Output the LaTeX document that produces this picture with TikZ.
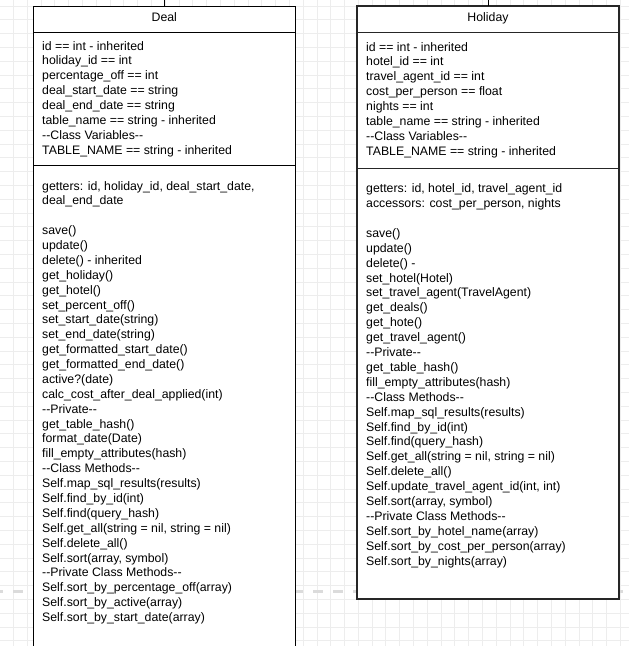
\documentclass[tikz,border=0pt]{standalone}
\usepackage{fontspec}
\setmainfont{Liberation Sans}
\newcommand\dd{-\kern0pt-}
\begin{document}
\begin{tikzpicture}[x=1pt,y=-1pt,
  gridline/.style={draw=gray!14, line width=0.8pt},
  swimline/.style={draw=gray!28, line width=3pt, dash pattern=on 10pt off 10pt},
  classbox/.style={draw=black, line width=1.4pt, fill=white, rectangle, inner sep=0pt, outer sep=0pt, anchor=north west},
  sepline/.style={draw=black, line width=1.4pt},
  link/.style={draw=black, line width=1.2pt},
  title/.style={anchor=base, inner sep=0pt, font=\fontsize{12.3}{14.88}\selectfont},
  member/.style={anchor=base west, inner sep=0pt, font=\fontsize{12.3}{14.88}\selectfont}]
\useasboundingbox (0,0) rectangle (629,646);
\clip (0,0) rectangle (629,646);
% background grid
\foreach \k in {0,...,44} \draw[gridline] ({13.4+13.796*\k},0) -- ({13.4+13.796*\k},646);
\foreach \k in {0,...,46} \draw[gridline] (0,{5.9+13.8*\k}) -- (629,{5.9+13.8*\k});
% dashed lane line
\draw[swimline] (-6.7,591) -- (640,591);
% class boxes
\node[classbox, minimum width=262pt, minimum height=660pt] (deal) at (33.3,6.3) {};
\node[classbox, draw=black!85, line width=1.7pt, minimum width=262pt, minimum height=592.4pt] (holiday) at (357,6.3) {};
\draw[sepline] (deal.north west) ++(0,26.4) -- ++(262,0);
\draw[sepline] (deal.north west) ++(0,159.4) -- ++(262,0);
\draw[sepline, draw=black!85] (holiday.north west) ++(0,26.4) -- ++(262,0);
\draw[sepline, draw=black!85] (holiday.north west) ++(0,162) -- ++(262,0);
% connectors leaving the top
\coordinate (dealtop) at (164.5,-3);
\coordinate (holidaytop) at (488.2,-3);
\draw[link] (deal.north) ++(0.2,0) -- (dealtop);
\draw[link] (holiday.north) ++(0.2,0) -- (holidaytop);
% titles
\node[title] (dealname) at (164.3,21.9) {Deal};
\node[title] (holidayname) at (488,21.9) {Holiday};
% Deal attributes
\foreach \t [count=\i from 0] in {%
  {id == int - inherited},
  {holiday\_id == int},
  {percentage\_off == int},
  {deal\_start\_date == string},
  {deal\_end\_date == string},
  {table\_name == string - inherited},
  {\dd Class Variables\dd},
  {TABLE\_NAME == string - inherited}}
  \node[member] (da\i) at (42,{50.0+14.86*\i}) {\t};
% Deal methods
\foreach \t [count=\i from 0] in {%
  {getters: id, holiday\_id, deal\_start\_date,},
  {deal\_end\_date}}
  \node[member] (dm\i) at (42,{190.0+14.88*\i}) {\t};
\foreach \t [count=\i from 3] in {%
  {save()},
  {update()},
  {delete() - inherited},
  {get\_holiday()},
  {get\_hotel()},
  {set\_percent\_off()},
  {set\_start\_date(string)},
  {set\_end\_date(string)},
  {get\_formatted\_start\_date()},
  {get\_formatted\_end\_date()},
  {active?(date)},
  {calc\_cost\_after\_deal\_applied(int)},
  {\dd Private\dd},
  {get\_table\_hash()},
  {format\_date(Date)},
  {fill\_empty\_attributes(hash)},
  {\dd Class Methods\dd},
  {Self.map\_sql\_results(results)},
  {Self.find\_by\_id(int)},
  {Self.find(query\_hash)},
  {Self.get\_all(string = nil, string = nil)},
  {Self.delete\_all()},
  {Self.sort(array, symbol)},
  {\dd Private Class Methods\dd},
  {Self.sort\_by\_percentage\_off(array)},
  {Self.sort\_by\_active(array)},
  {Self.sort\_by\_start\_date(array)}}
  \node[member] (dm\i) at (42,{190.0+14.88*\i}) {\t};
% Holiday attributes
\foreach \t [count=\i from 0] in {%
  {id == int - inherited},
  {hotel\_id == int},
  {travel\_agent\_id == int},
  {cost\_per\_person == float},
  {nights == int},
  {table\_name == string - inherited},
  {\dd Class Variables\dd},
  {TABLE\_NAME == string - inherited}}
  \node[member] (ha\i) at (366,{51.0+14.86*\i}) {\t};
% Holiday methods
\foreach \t [count=\i from 0] in {%
  {getters: id, hotel\_id, travel\_agent\_id},
  {accessors: cost\_per\_person, nights}}
  \node[member] (hm\i) at (366,{192.6+14.9*\i}) {\t};
\foreach \t [count=\i from 3] in {%
  {save()},
  {update()},
  {delete() -},
  {set\_hotel(Hotel)},
  {set\_travel\_agent(TravelAgent)},
  {get\_deals()},
  {get\_hote()},
  {get\_travel\_agent()},
  {\dd Private\dd},
  {get\_table\_hash()},
  {fill\_empty\_attributes(hash)},
  {\dd Class Methods\dd},
  {Self.map\_sql\_results(results)},
  {Self.find\_by\_id(int)},
  {Self.find(query\_hash)},
  {Self.get\_all(string = nil, string = nil)},
  {Self.delete\_all()},
  {Self.update\_travel\_agent\_id(int, int)},
  {Self.sort(array, symbol)},
  {\dd Private Class Methods\dd},
  {Self.sort\_by\_hotel\_name(array)},
  {Self.sort\_by\_cost\_per\_person(array)},
  {Self.sort\_by\_nights(array)}}
  \node[member] (hm\i) at (366,{192.6+14.9*\i}) {\t};
\end{tikzpicture}
\end{document}
